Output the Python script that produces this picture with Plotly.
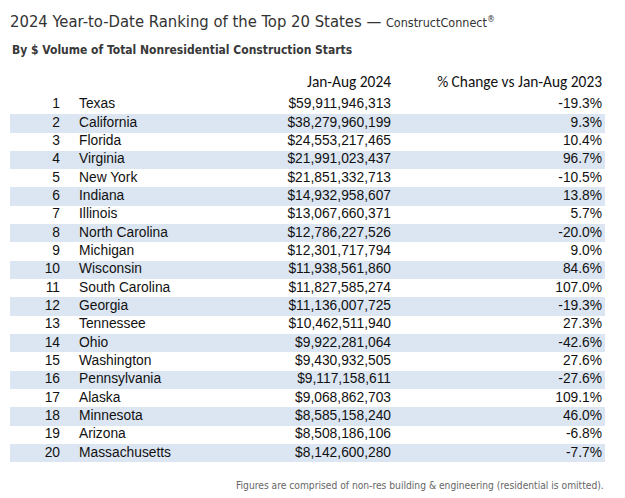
import plotly.graph_objects as go

ranks = list(range(1, 21))
states = ["Texas", "California", "Florida", "Virginia", "New York", "Indiana", "Illinois",
          "North Carolina", "Michigan", "Wisconsin", "South Carolina", "Georgia", "Tennessee",
          "Ohio", "Washington", "Pennsylvania", "Alaska", "Minnesota", "Arizona", "Massachusetts"]
volumes = [59911946313, 38279960199, 24553217465, 21991023437, 21851332713, 14932958607,
           13067660371, 12786227526, 12301717794, 11938561860, 11827585274, 11136007725,
           10462511940, 9922281064, 9430932505, 9117158611, 9068862703, 8585158240,
           8508186106, 8142600280]
pct_change = [-19.3, 9.3, 10.4, 96.7, -10.5, 13.8, 5.7, -20.0, 9.0, 84.6, 107.0, -19.3,
              27.3, -42.6, 27.6, -27.6, 109.1, 46.0, -6.8, -7.7]
col_headers = ["Jan-Aug 2024", "% Change vs Jan-Aug 2023"]

W, H = 625, 498
STRIPE = "#dce6f2"
TXT = "#111111"

vol_txt = [f"${v:,.0f}" for v in volumes]
pct_txt = [f"{p:.1f}%" for p in pct_change]

body_font = "Liberation Sans, Arial, sans-serif"
narrow = "DejaVu Sans Condensed, Liberation Sans Narrow, sans-serif"
head_font = "Carlito, Lato, sans-serif"

# layout geometry (pixels)
ROW0, STEP = 105, 18.33
X_RANK, X_STATE, X_VOL, X_PCT = 60, 79, 391, 602
STRIPE_L, STRIPE_R = 10, 605

stripe_ranks = [r for r in ranks if r % 2 == 0]

fig = go.Figure()
fig.add_trace(go.Bar(
    y=stripe_ranks, x=[STRIPE_R - STRIPE_L] * len(stripe_ranks), base=STRIPE_L,
    orientation="h", width=1.0, marker=dict(color=STRIPE, line_width=0),
    hoverinfo="skip", showlegend=False))

def text_col(xpos, vals, pos, font):
    fig.add_trace(go.Scatter(
        x=[xpos] * len(vals), y=ranks, mode="text", text=vals, textposition=pos,
        textfont=dict(family=font, size=13.8, color=TXT), hoverinfo="skip", showlegend=False))

text_col(X_RANK, [str(r) for r in ranks], "middle left", body_font)
text_col(X_STATE, states, "middle right", body_font)
text_col(X_VOL, vol_txt, "middle left", body_font)
text_col(X_PCT, pct_txt, "middle left", body_font)

# column headers
fig.add_trace(go.Scatter(
    x=[X_VOL, X_PCT], y=[1 - (ROW0 - 83) / STEP] * 2, mode="text", text=col_headers,
    textposition="middle left", textfont=dict(family=head_font, size=15.4, color=TXT),
    hoverinfo="skip", showlegend=False))

y_top = 1 - ROW0 / STEP
y_bot = 1 + (H - ROW0) / STEP
fig.update_xaxes(range=[0, W], visible=False, fixedrange=True)
fig.update_yaxes(range=[y_bot, y_top], visible=False, fixedrange=True)

fig.add_annotation(
    x=8 / W, y=1 - 22 / H, xref="paper", yref="paper", xanchor="left", yanchor="middle",
    text="2024 Year-to-Date Ranking of the Top 20 States \u2014 <span style='font-size:12.5px'>ConstructConnect<sup>®</sup></span>",
    showarrow=False, font=dict(family=narrow, size=16.5, color="#333333"))
fig.add_annotation(
    x=10 / W, y=1 - 50 / H, xref="paper", yref="paper", xanchor="left", yanchor="middle",
    text="<b>By $ Volume of Total Nonresidential Construction Starts</b>",
    showarrow=False, font=dict(family=narrow, size=12, color="#383838"))
fig.add_annotation(
    x=606 / W, y=1 - 485 / H, xref="paper", yref="paper", xanchor="right", yanchor="middle",
    text="Figures are comprised of non-res building & engineering (residential is omitted).",
    showarrow=False, font=dict(family=narrow, size=10.2, color="#666666"))

fig.update_layout(width=W, height=H, margin=dict(l=0, r=0, t=0, b=0),
                  paper_bgcolor="white", plot_bgcolor="white", bargap=0)
fig.write_html("out.html", config={"displayModeBar": False},
               post_script="document.body.style.margin='0';")
